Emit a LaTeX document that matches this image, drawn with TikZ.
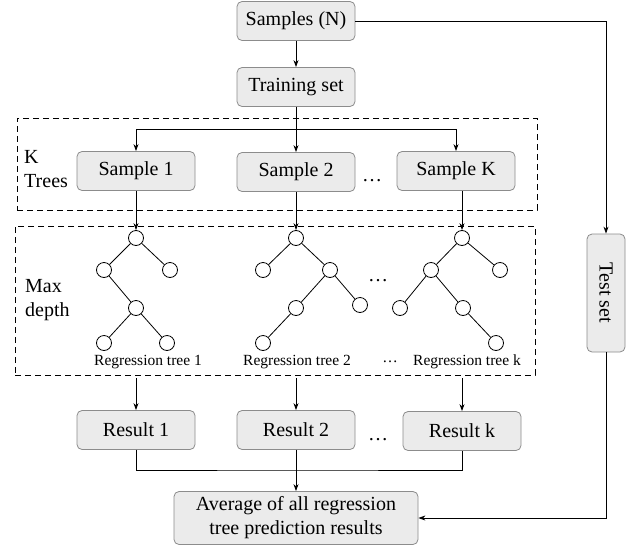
\documentclass[tikz,border=0pt]{standalone}
\usepackage{fontspec}
\setmainfont{Liberation Serif}
\usetikzlibrary{arrows.meta}
\definecolor{boxfill}{HTML}{EBEBEB}
\definecolor{boxline}{HTML}{8C8C8C}
\begin{document}
\begin{tikzpicture}[x=1pt,y=-1pt,
  box/.style={draw=boxline,fill=boxfill,rounded corners=5pt,line width=0.8pt,
    minimum width=118pt,minimum height=39pt,inner sep=0pt,font=\fontsize{20}{24}\selectfont},
  dbox/.style={draw,dashed,dash pattern=on 6pt off 4pt,line width=0.8pt,inner sep=0pt},
  nd/.style={circle,draw,fill=white,line width=0.8pt,minimum size=15pt,inner sep=0pt},
  edge/.style={line width=0.8pt},
  arr/.style={line width=0.8pt,-{Stealth[length=7pt,width=5pt]}},
  lbl/.style={font=\fontsize{20}{24}\selectfont,align=left,inner sep=0pt},
  tlbl/.style={font=\fontsize{15.5}{18}\selectfont,inner sep=0pt},
  dots/.style={font=\fontsize{20}{24}\selectfont,inner sep=0pt}]
\useasboundingbox (0,0) rectangle (631,549);

% dashed boxes
\node[dbox,minimum width=520pt,minimum height=92pt] (b1) at (277,164) {};
\node[dbox,minimum width=520pt,minimum height=149pt] (b2) at (275,300.5) {};

% top boxes
\node[box] (sn) at (296,21) {Samples (N)};
\node[box] (ts) at (296,87) {Training set};

% samples
\node[box] (s1) at (136,171) {Sample 1};
\node[box] (s2) at (296,172) {Sample 2};
\node[box] (sk) at (456,171) {Sample K};
\node[dots] (d1) at (372,181) {\dots};
\node[lbl,anchor=west] (kt) at (24,169) {K\\Trees};

% labels in box 2
\node[lbl,anchor=west] (md) at (25,300) {Max\\depth};

% tree 1
\node[nd] (a0) at (136,238) {};
\node[nd] (a1) at (104,270) {};
\node[nd] (a2) at (170,270) {};
\node[nd] (a3) at (136,308) {};
\node[nd] (a4) at (104,343) {};
\node[nd] (a5) at (167,343) {};
\draw[edge] (a0)--(a1) (a0)--(a2) (a1)--(a3) (a3)--(a4) (a3)--(a5);

% tree 2
\node[nd] (c0) at (296,238) {};
\node[nd] (c1) at (263,270) {};
\node[nd] (c2) at (330,270) {};
\node[nd] (c3) at (296,308) {};
\node[nd] (c4) at (360,305) {};
\node[nd] (c5) at (263,343) {};
\draw[edge] (c0)--(c1) (c0)--(c2) (c2)--(c3) (c2)--(c4) (c3)--(c5);

% tree k
\node[nd] (e0) at (462,238) {};
\node[nd] (e1) at (431,270) {};
\node[nd] (e2) at (500,270) {};
\node[nd] (e3) at (400,308) {};
\node[nd] (e4) at (463,308) {};
\node[nd] (e5) at (496,343) {};
\draw[edge] (e0)--(e1) (e0)--(e2) (e1)--(e3) (e1)--(e4) (e4)--(e5);

\node[dots] (d2) at (378,281) {\dots};
\node[tlbl] (l1) at (148,362) {Regression tree 1};
\node[tlbl] (l2) at (297,362) {Regression tree 2};
\node[tlbl] (ld) at (390,362) {\dots};
\node[tlbl] (lk) at (467,362) {Regression tree k};

% results
\node[box] (r1) at (136,430) {Result 1};
\node[box] (r2) at (296,430) {Result 2};
\node[box] (rk) at (462,431) {Result k};
\node[dots] (d3) at (378,440) {\dots};

% average
\node[box,minimum width=244pt,minimum height=53pt,align=center] (avg) at (296,518)
  {Average of all regression\\tree prediction results};

% test set
\node[box,minimum width=38pt,minimum height=118pt] (tst) at (606,293) {\rotatebox{-90}{Test set}};

% connectors
\draw[arr] (sn) -- (ts);
\coordinate (br) at (296,129);
\draw[edge] (ts.south) -- (br);
\draw[edge] (s1 |- br) -- (sk |- br);
\draw[arr] (s1 |- br) -- (s1);
\draw[arr] (br) -- (s2);
\draw[arr] (sk |- br) -- (sk);

\draw[arr] (s1) -- (a0);
\draw[arr] (s2) -- (c0);
\draw[arr] (sk.south -| e0) -- (e0);

\coordinate (bb) at (0,378);
\draw[arr] (a0 |- bb) -- (r1);
\draw[arr] (c0 |- bb) -- (r2);
\draw[arr] (e0 |- bb) -- (rk);

\coordinate (mg) at (296,470);
\draw[edge] (r1.south) |- (mg) -| (rk.south);
\draw[arr] (r2) -- (avg);

\draw[arr] (sn.east) -| (tst.north);
\draw[arr] (tst.south) |- (avg.east);
\end{tikzpicture}
\end{document}
